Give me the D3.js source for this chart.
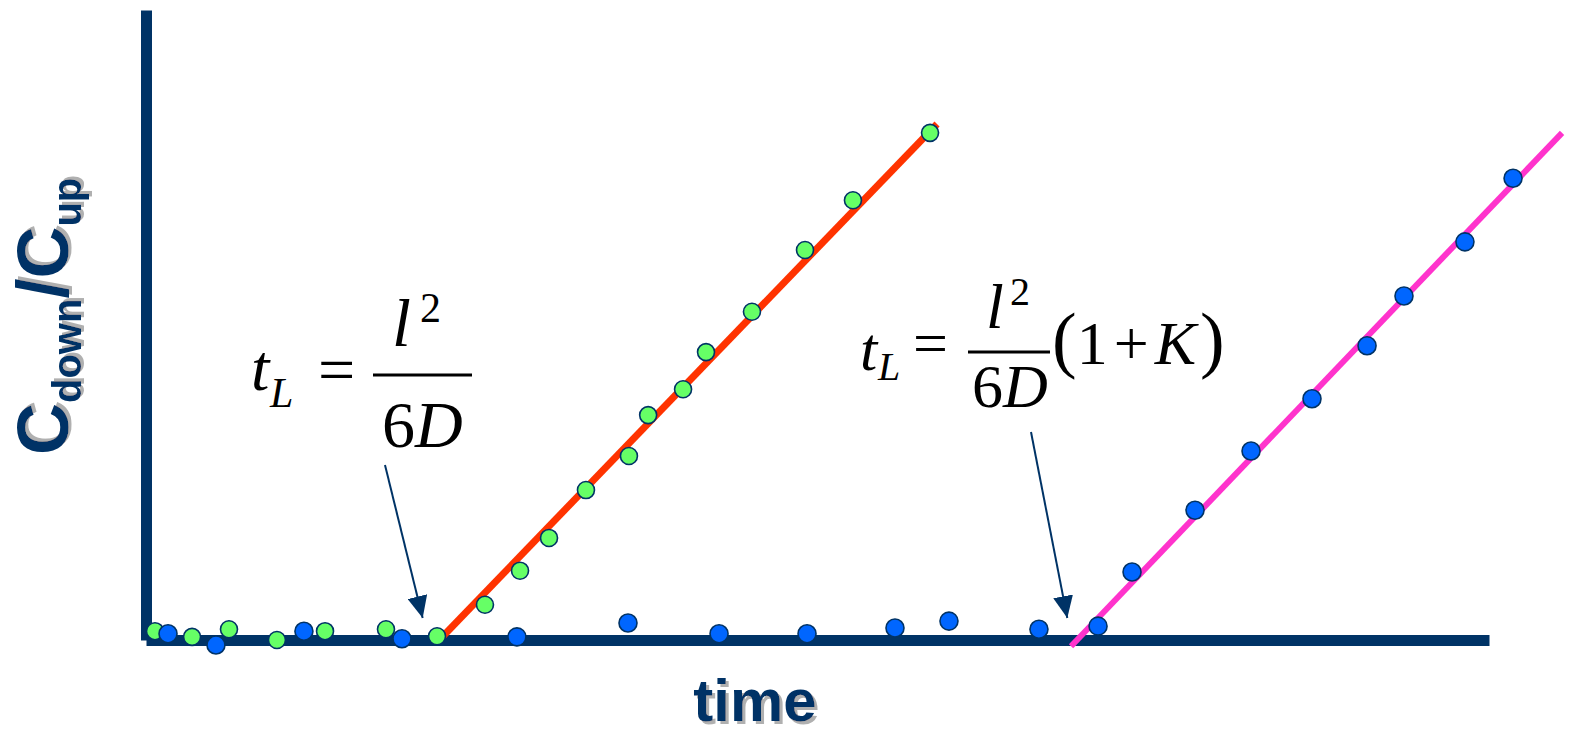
<!DOCTYPE html>
<meta charset="utf-8">
<style>

body {
  margin: 0;
  background: #fff;
}

.axis path {
  stroke: #003366;
  stroke-width: 11px;
  stroke-linecap: butt;
}

.label {
  font-family: "Liberation Sans", Arial, sans-serif;
  font-weight: bold;
  fill: #003366;
}

.math {
  font-family: "Liberation Serif", "Times New Roman", serif;
  fill: #000;
}

</style>
<svg></svg>
<script src="https://cdn.jsdelivr.net/npm/d3@7"></script>
<script>

var width = 1570,
    height = 734;

// green series (fast lag) : time and C_down/C_up
var greenTime  = [0.67, 3.43, 6.18, 9.75, 13.33, 17.87, 21.67, 25.24, 27.85, 30.01, 32.76, 35.96, 37.39, 39.99, 41.70, 45.12, 49.07, 52.64, 58.38];
var greenRatio = [0.014, 0.005, 0.017, 0.000, 0.014, 0.017, 0.006, 0.056, 0.110, 0.162, 0.238, 0.292, 0.357, 0.398, 0.457, 0.521, 0.619, 0.698, 0.805];

// blue series (slow lag, with trapping K)
var blueTime  = [1.64, 5.21, 11.76, 19.06, 27.62, 35.89, 42.67, 49.22, 55.77, 59.79, 66.49, 70.89, 73.42, 78.11, 82.28, 86.82, 90.92, 93.67, 98.21, 101.79];
var blueRatio = [0.010, -0.008, 0.014, 0.002, 0.005, 0.027, 0.010, 0.010, 0.019, 0.030, 0.017, 0.022, 0.108, 0.206, 0.300, 0.383, 0.467, 0.546, 0.632, 0.733];

// fitted straight lines (start at the lag time)
var redFitTime  = [22.11, 58.90],
    redFitRatio = [0.006, 0.819];
var pinkFitTime  = [68.88, 105.44],
    pinkFitRatio = [-0.010, 0.805];

// lag times the arrows point at
var lagTimes = [20.6, 68.6];

var navy = "#003366";

var x = d3.scaleLinear().domain([0, 100]).range([146, 1489]);
var y = d3.scaleLinear().domain([0, 1]).range([640, 10]);

var svg = d3.select("svg")
    .attr("width", width)
    .attr("height", height);

var defs = svg.append("defs");
defs.append("marker")
    .attr("id", "head")
    .attr("markerUnits", "userSpaceOnUse")
    .attr("viewBox", "0 0 22 20")
    .attr("refX", 22)
    .attr("refY", 10)
    .attr("markerWidth", 22)
    .attr("markerHeight", 20)
    .attr("orient", "auto")
  .append("path")
    .attr("d", "M0,0L22,10L0,20Z")
    .attr("fill", navy);

var shadow = defs.append("filter")
    .attr("id", "shadow")
    .attr("x", "-10%").attr("y", "-10%")
    .attr("width", "130%").attr("height", "130%");
shadow.append("feDropShadow")
    .attr("dx", 3)
    .attr("dy", 3)
    .attr("stdDeviation", 0.6)
    .attr("flood-color", "#b0b0b0")
    .attr("flood-opacity", 1);

// axes: bare thick lines, no ticks
svg.append("g")
    .attr("class", "axis")
    .attr("transform", "translate(0," + y(0) + ")")
    .call(d3.axisBottom(x).tickValues([]).tickSizeOuter(0));

svg.append("g")
    .attr("class", "axis")
    .attr("transform", "translate(" + x(0) + ",0)")
    .call(d3.axisLeft(y).tickValues([]).tickSizeOuter(0));

var line = d3.line()
    .x(function(d) { return x(d[0]); })
    .y(function(d) { return y(d[1]); });

svg.append("path")
    .datum(d3.zip(redFitTime, redFitRatio))
    .attr("d", line)
    .attr("fill", "none")
    .attr("stroke", "#ff3300")
    .attr("stroke-width", 7);

svg.append("path")
    .datum(d3.zip(pinkFitTime, pinkFitRatio))
    .attr("d", line)
    .attr("fill", "none")
    .attr("stroke", "#ff33cc")
    .attr("stroke-width", 6);

function dots(t, c, fill, r) {
  svg.append("g")
    .selectAll("circle")
    .data(d3.zip(t, c))
    .enter().append("circle")
      .attr("cx", function(d) { return x(d[0]); })
      .attr("cy", function(d) { return y(d[1]); })
      .attr("r", r)
      .attr("fill", fill)
      .attr("stroke", navy)
      .attr("stroke-width", 1.6);
}

dots(greenTime, greenRatio, "#66ff66", 8.5);
dots(blueTime, blueRatio, "#0066ff", 9);

// arrows from the formulas down to the lag times
var arrows = [
  {from: [385, 465], to: [x(lagTimes[0]), 618]},
  {from: [1031, 432], to: [x(lagTimes[1]), 618]}
];
svg.append("g")
  .selectAll("line")
  .data(arrows)
  .enter().append("line")
    .attr("x1", function(d) { return d.from[0]; })
    .attr("y1", function(d) { return d.from[1]; })
    .attr("x2", function(d) { return d.to[0]; })
    .attr("y2", function(d) { return d.to[1]; })
    .attr("stroke", navy)
    .attr("stroke-width", 2)
    .attr("marker-end", "url(#head)");

// axis titles with a grey drop shadow
var yt = svg.append("text")
    .attr("class", "label")
    .attr("filter", "url(#shadow)")
    .attr("transform", "translate(68,455) rotate(-90)");
yt.append("tspan").attr("font-size", 72).text("C");
yt.append("tspan").attr("font-size", 40).attr("dy", 13).text("down");
yt.append("tspan").attr("font-size", 72).attr("dy", -13).text("/C");
yt.append("tspan").attr("font-size", 40).attr("dy", 13).text("up");

svg.append("text")
    .attr("class", "label")
    .attr("filter", "url(#shadow)")
    .attr("x", 755)
    .attr("y", 721)
    .attr("text-anchor", "middle")
    .attr("font-size", 60)
    .text("time");

// formula 1 : t_L = l^2 / 6D
var f1 = svg.append("g").attr("class", "math");
f1.append("text").attr("x", 251).attr("y", 390).attr("font-size", 66).attr("font-style", "italic").text("t");
f1.append("text").attr("x", 270).attr("y", 407).attr("font-size", 42).attr("font-style", "italic").text("L");
f1.append("text").attr("x", 318).attr("y", 392).attr("font-size", 66).text("=");
f1.append("line").attr("x1", 373).attr("x2", 472).attr("y1", 375).attr("y2", 375)
    .attr("stroke", "#000").attr("stroke-width", 3);
f1.append("text").attr("x", 392).attr("y", 346).attr("font-size", 68).attr("font-style", "italic").text("l");
f1.append("text").attr("x", 420).attr("y", 322).attr("font-size", 42).text("2");
var d1 = f1.append("text").attr("x", 382).attr("y", 447).attr("font-size", 66);
d1.append("tspan").text("6");
d1.append("tspan").attr("font-style", "italic").text("D");

// formula 2 : t_L = l^2 / 6D (1 + K)
var f2 = svg.append("g").attr("class", "math");
f2.append("text").attr("x", 860).attr("y", 370).attr("font-size", 62).attr("font-style", "italic").text("t");
f2.append("text").attr("x", 878).attr("y", 380).attr("font-size", 40).attr("font-style", "italic").text("L");
f2.append("text").attr("x", 913).attr("y", 364).attr("font-size", 62).text("=");
f2.append("line").attr("x1", 968).attr("x2", 1050).attr("y1", 352).attr("y2", 352)
    .attr("stroke", "#000").attr("stroke-width", 3);
f2.append("text").attr("x", 986).attr("y", 328).attr("font-size", 64).attr("font-style", "italic").text("l");
f2.append("text").attr("x", 1010).attr("y", 305).attr("font-size", 40).text("2");
var d2 = f2.append("text").attr("x", 972).attr("y", 407).attr("font-size", 62);
d2.append("tspan").text("6");
d2.append("tspan").attr("font-style", "italic").text("D");
var p2 = f2.append("text").attr("x", 1052).attr("y", 364).attr("font-size", 62);
p2.append("tspan").attr("font-size", 74).attr("font-weight", 300).text("(");
p2.append("tspan").text("1");
p2.append("tspan").attr("dx", 6).text("+");
p2.append("tspan").attr("dx", 6).attr("font-style", "italic").text("K");
p2.append("tspan").attr("dx", 4).attr("font-size", 74).text(")");

</script>
